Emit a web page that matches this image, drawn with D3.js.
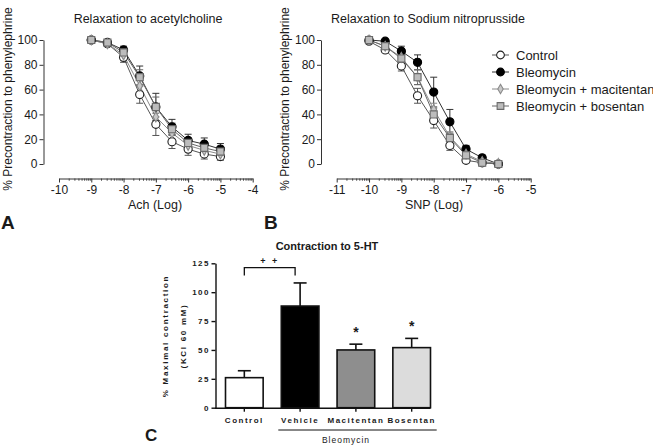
<!DOCTYPE html>
<html><head><meta charset="utf-8">
<script src="https://cdn.jsdelivr.net/npm/d3@7"></script>
<style>
body{margin:0;background:#fff}
svg{display:block}
text{font-family:Arial,"Liberation Sans",sans-serif;fill:#1a1a1a}
</style>
</head><body>
<svg id="c" width="653" height="446"></svg>
<script>
// ---------- data ----------
const seriesNames = ["Control","Bleomycin","Bleomycin + macitentan","Bleomycin + bosentan"];

const achX = [-9,-8.5,-8,-7.5,-7,-6.5,-6,-5.5,-5];
const achControl    = [100,97,86,56,32,18,12,8,6];
const achControlErr = [1,2,4,7,9,5.5,5,4,3];
const achBleo       = [100,98,92,71,46,30,19,16,12];
const achBleoErr    = [1,2,3,8,11,6,5,5,4.5];
const achMaci       = [100,97,88,63,38,25,15,11,8];
const achMaciErr    = [1,2,3,6,8,5,4,4,3];
const achBose       = [100,98,90,70,46,28,17,13,10];
const achBoseErr    = [1,2,3,6,8,5,4,4,3];

const snpX = [-10,-9.5,-9,-8.5,-8,-7.5,-7,-6.5,-6];
const snpControl    = [99,92,79,55,35,15,3,1,0];
const snpControlErr = [1,2,4,6,6,4,2,1,0.5];
const snpBleo       = [100,99,91,82,58,34,12,5,0];
const snpBleoErr    = [1,1,4,6,12,10,3,2,0.5];
const snpMaci       = [100,95,86,70,44,22,8,2,0.5];
const snpMaciErr    = [1,2,4,6,5,4,2,1,0.5];
const snpBose       = [100,95,85,70,40,21,7,1,0];
const snpBoseErr    = [1,2,4,6,5,4,2,1,0.5];

const yTicksRelax = [0,20,40,60,80,100];
const achTicks = [-10,-9,-8,-7,-6,-5,-4];
const snpTicks = [-11,-10,-9,-8,-7,-6,-5];

const barCats   = ["Control","Vehicle","Macitentan","Bosentan"];
const barValues = [26,88,50,52];
const barErr    = [6,20,5,8];
const barTicks  = [0,25,50,75,100,125];
const barSig    = ["","","*","*"];

// ---------- styles ----------
const styles = [
  {sym:d3.symbolCircle, size:52, fill:"#fff", stroke:"#222", line:"#555"},
  {sym:d3.symbolCircle, size:52, fill:"#000", stroke:"#000", line:"#333"},
  {sym:d3.symbolDiamond, size:28, fill:"#c8c8c8", stroke:"#8a8a8a", line:"#8a8a8a"},
  {sym:d3.symbolSquare, size:50, fill:"#bcbcbc", stroke:"#6a6a6a", line:"#666"}
];

const svg = d3.select("#c");

function logAxisPanel(opt){
  const g = svg.append("g");
  const x = d3.scaleLinear().domain(opt.xDomain).range(opt.xRange);
  const y = d3.scaleLinear().domain([0,100]).range([164,40]);

  // y axis
  const ya = g.append("g").attr("transform",`translate(${opt.yAxisX},0)`)
    .call(d3.axisLeft(y).tickValues(yTicksRelax).tickSize(4).tickSizeOuter(0).tickPadding(2));
  ya.selectAll("text").style("font-size","12px").attr("fill","#1a1a1a");
  ya.selectAll("path,line").attr("stroke","#333");

  // x axis major
  const xa = g.append("g").attr("transform","translate(0,178.5)")
    .call(d3.axisBottom(x).tickValues(opt.ticks).tickSize(4).tickSizeOuter(0).tickPadding(3).tickFormat(d=>String(d)));
  xa.selectAll("text").style("font-size","12px").attr("fill","#1a1a1a");
  xa.selectAll("path,line").attr("stroke","#333");
  // minor ticks
  const minor = [];
  for (let d = opt.xDomain[0]; d < opt.xDomain[1]; d++) for (let k = 2; k <= 9; k++) minor.push(d + Math.log10(k));
  const xm = g.append("g").attr("transform","translate(0,178.5)")
    .call(d3.axisBottom(x).tickValues(minor).tickSize(2.2).tickFormat(""));
  xm.select("path").remove();
  xm.selectAll("line").attr("stroke","#444");

  // labels
  g.append("text").attr("x",opt.titleX).attr("y",23).attr("text-anchor","middle")
    .style("font-size","12.5px").text(opt.title);
  g.append("text").attr("x",opt.xLabelX).attr("y",209).attr("text-anchor","middle")
    .style("font-size","12.5px").text(opt.xLabel);
  g.append("text").attr("transform",`translate(${opt.yLabelX},99) rotate(-90)`).attr("text-anchor","middle")
    .style("font-size","12px").text("% Precontraction to phenylephrine");
  g.append("text").attr("x",opt.letterX).attr("y",229).style("font-size","19px").style("font-weight","bold")
    .attr("fill","#000").text(opt.letter);

  // series
  const line = d3.line().x((d,i)=>x(opt.xs[i])).y(d=>y(d));
  opt.series.forEach((s,si)=>{
    const st = styles[si];
    g.append("path").datum(s.v).attr("d",line).attr("fill","none").attr("stroke",st.line).attr("stroke-width",1);
  });
  opt.series.forEach((s,si)=>{
    const st = styles[si];
    const eg = g.append("g");
    s.v.forEach((v,i)=>{
      const e = s.e[i]; if (e < 2) return;
      const cx = x(opt.xs[i]);
      eg.append("line").attr("x1",cx).attr("x2",cx).attr("y1",y(v+e)).attr("y2",y(v-e)).attr("stroke",st.line).attr("stroke-width",1);
      [v+e,v-e].forEach(t=>eg.append("line").attr("x1",cx-3.5).attr("x2",cx+3.5).attr("y1",y(t)).attr("y2",y(t)).attr("stroke",st.line).attr("stroke-width",1));
    });
  });
  opt.series.forEach((s,si)=>{
    const st = styles[si];
    g.append("g").selectAll("path").data(s.v).join("path")
      .attr("transform",(d,i)=>`translate(${x(opt.xs[i])},${y(d)})`)
      .attr("d",d3.symbol().type(st.sym).size(st.size))
      .attr("fill",st.fill).attr("stroke",st.stroke).attr("stroke-width",1.1);
  });
}

logAxisPanel({
  xDomain:[-10,-4], xRange:[59,252.7], ticks:achTicks, yAxisX:43.5, xs:achX,
  series:[{v:achControl,e:achControlErr},{v:achBleo,e:achBleoErr},{v:achMaci,e:achMaciErr},{v:achBose,e:achBoseErr}],
  title:"Relaxation to acetylcholine", titleX:148, xLabel:"Ach (Log)", xLabelX:155, yLabelX:12, letter:"A", letterX:1
});
logAxisPanel({
  xDomain:[-11,-5], xRange:[336.7,530.7], ticks:snpTicks, yAxisX:321, xs:snpX,
  series:[{v:snpControl,e:snpControlErr},{v:snpBleo,e:snpBleoErr},{v:snpMaci,e:snpMaciErr},{v:snpBose,e:snpBoseErr}],
  title:"Relaxation to Sodium nitroprusside", titleX:428, xLabel:"SNP (Log)", xLabelX:434, yLabelX:289, letter:"B", letterX:264
});

// legend
const lg = svg.append("g");
seriesNames.forEach((n,i)=>{
  const st = styles[i];
  const cy = 55 + i*17;
  lg.append("line").attr("x1",492).attr("x2",509).attr("y1",cy).attr("y2",cy).attr("stroke",st.line).attr("stroke-width",1);
  lg.append("path").attr("transform",`translate(500.5,${cy})`).attr("d",d3.symbol().type(st.sym).size(st.size*0.9))
    .attr("fill",st.fill).attr("stroke",st.stroke).attr("stroke-width",1.1);
  lg.append("text").attr("x",516).attr("y",cy+4.6).style("font-size","13px").text(n);
});

// ---------- panel C ----------
const gc = svg.append("g");
const xb = d3.scaleBand().domain(barCats).range([225.5,430.5]).paddingInner(0.325).paddingOuter(0);
const yb = d3.scaleLinear().domain([0,125]).range([407.7,263.3]);
const smallFont = s=>s.style("font-size","8px").style("font-weight","bold").style("letter-spacing","1.5px");

const yax = gc.append("g").attr("transform","translate(215.5,0)")
  .call(d3.axisLeft(yb).tickValues(barTicks).tickSize(4).tickSizeOuter(0).tickPadding(3));
yax.selectAll("path,line").attr("stroke","#111").attr("stroke-width",1.4);
yax.selectAll("text").call(smallFont).attr("fill","#1a1a1a").attr("dx","1.5");

gc.selectAll("rect.bar").data(barValues).join("rect").attr("class","bar")
  .attr("x",(d,i)=>xb(barCats[i])).attr("width",xb.bandwidth())
  .attr("y",d=>yb(d)).attr("height",d=>yb(0)-yb(d))
  .attr("fill",(d,i)=>["#ffffff","#000000","#8e8e8e","#dcdcdc"][i])
  .attr("stroke","#111").attr("stroke-width",1.6);

barValues.forEach((v,i)=>{
  const cx = xb(barCats[i]) + xb.bandwidth()/2;
  gc.append("line").attr("x1",cx).attr("x2",cx).attr("y1",yb(v)).attr("y2",yb(v+barErr[i])).attr("stroke","#111").attr("stroke-width",1.6);
  gc.append("line").attr("x1",cx-6.5).attr("x2",cx+6.5).attr("y1",yb(v+barErr[i])).attr("y2",yb(v+barErr[i])).attr("stroke","#111").attr("stroke-width",1.6);
  if (barSig[i]) gc.append("text").attr("x",cx).attr("y",yb(v+barErr[i])-7).attr("text-anchor","middle")
    .style("font-size","14px").style("font-weight","bold").text(barSig[i]);
});

const xax = gc.append("g").attr("transform",`translate(0,${yb(0)})`)
  .call(d3.axisBottom(xb).tickSize(4).tickSizeOuter(0).tickPadding(6));
xax.select("path").attr("d",`M215,0.5H${xb.range()[1]}`);
xax.selectAll("path,line").attr("stroke","#111").attr("stroke-width",1.4);
xax.selectAll("text").call(smallFont).attr("fill","#1a1a1a");

// bleomycin group line
gc.append("line").attr("x1",278.3).attr("x2",436.7).attr("y1",430).attr("y2",430).attr("stroke","#111").attr("stroke-width",1);
gc.append("text").attr("x",346).attr("y",443).attr("text-anchor","middle")
  .style("font-size","8.5px").style("letter-spacing","1px").text("Bleomycin");

// significance bracket
const c0 = xb("Control")+xb.bandwidth()/2, c1 = xb("Vehicle")+xb.bandwidth()/2 - 5;
gc.append("path").attr("d",`M${c0},275.5V267.7H${c1}V275.5`).attr("fill","none").attr("stroke","#111").attr("stroke-width",1.3);
gc.append("text").attr("x",(c0+c1)/2).attr("y",263.5).attr("text-anchor","middle")
  .style("font-size","9px").style("font-weight","bold").style("letter-spacing","2px").text("+ +");

// title and labels
gc.append("text").attr("x",327).attr("y",249.5).attr("text-anchor","middle")
  .style("font-size","11px").style("font-weight","bold").text("Contraction to 5-HT");
gc.append("text").attr("transform","translate(168,336) rotate(-90)").attr("text-anchor","middle")
  .call(smallFont).style("letter-spacing","1.7px").text("% Maximal contraction");
gc.append("text").attr("transform","translate(186,336) rotate(-90)").attr("text-anchor","middle")
  .call(smallFont).style("letter-spacing","1.7px").text("(KCl 60 mM)");
gc.append("text").attr("x",145).attr("y",441).style("font-size","17px").style("font-weight","bold").attr("fill","#000").text("C");
</script>
</body></html>
